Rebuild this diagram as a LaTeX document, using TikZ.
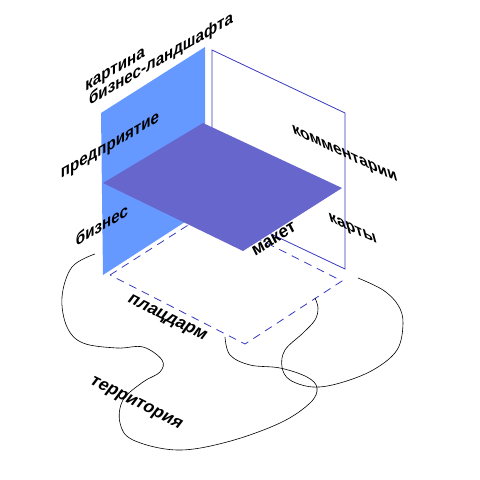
\documentclass[tikz,border=0pt]{standalone}
\usepackage{fontspec}
\setmainfont{Liberation Sans}
\usetikzlibrary{positioning}

\definecolor{wallblue}{HTML}{6699FF}
\definecolor{floorviolet}{HTML}{6666CC}
\definecolor{edgeblue}{HTML}{3838C0}

\tikzset{
    lbl/.style={font=\bfseries\fontsize{17.5}{20}\selectfont, anchor=base, inner sep=0pt, transform shape},
    leftwall/.style={lbl, cm={0.866,0.5,0,1,(0,0)}},
    rightwall/.style={lbl, cm={0.906,-0.423,-0.26,0.966,(0,0)}},
    ground/.style={lbl, cm={0.89,-0.45,0.6,0.8,(0,0)}},
    flooredge/.style={lbl, cm={0.85,0.53,-0.45,0.89,(0,0)}},
}

\begin{document}
\begin{tikzpicture}[x=1pt, y=-1pt]
    \useasboundingbox (0, 0) rectangle (480, 480);

    % right plane
    \draw[edgeblue, line width=0.8pt, fill=white] (212, 50) -- (345, 113) -- (345, 269) -- (212, 206) -- cycle;

    % ground
    \draw[edgeblue, line width=0.8pt, dash pattern=on 8pt off 6pt] (110, 275) -- (207, 213) -- (342, 281) -- (245, 344) -- cycle;

    % left plane
    \fill[wallblue] (101, 113) -- (205, 47) -- (205, 209) -- (103, 275) -- cycle;

    % floor
    \fill[floorviolet] (203, 123) -- (342, 188) -- (243, 251) -- (103, 183) -- cycle;

    % labels
    \node[leftwall] (kartina) at (115, 74) {картина};
    \node[leftwall] (landshaft) at (161, 64) {бизнес-ландшафта};
    \node[leftwall] (predpr) at (110, 150) {предприятие};
    \node[leftwall] (biznes) at (102, 231) {бизнес};
    \node[rightwall] (komment) at (346, 158) {комментарии};
    \node[rightwall] (karty) at (354, 233) {карты};
    \node[flooredge] (maket) at (276, 243) {макет};
    \node[ground] (placdarm) at (165, 321) {плацдарм};
    \node[ground] (territ) at (134, 406) {территория};

    % curves
    \draw[line width=0.6pt] plot[smooth, tension=0.6] coordinates {
        (95, 254) (72, 267) (62, 297) (67, 327) (83, 343) (117, 348) (143, 347)
        (162, 360) (160, 372) (143, 382) (123, 400) (120, 423) (133, 440) (177, 450)
        (227, 442) (280, 423) (310, 403) (317, 388) (307, 377) (280, 368) (250, 365)
        (230, 355) (225, 337)};
    \draw[line width=0.6pt] plot[smooth, tension=0.6] coordinates {
        (358, 278) (383, 290) (398, 305) (403, 323) (397, 350) (373, 370) (340, 383)
        (313, 387) (290, 380) (282, 367) (285, 350) (303, 333) (315, 320) (318, 308)
        (315, 298)};
\end{tikzpicture}
\end{document}
